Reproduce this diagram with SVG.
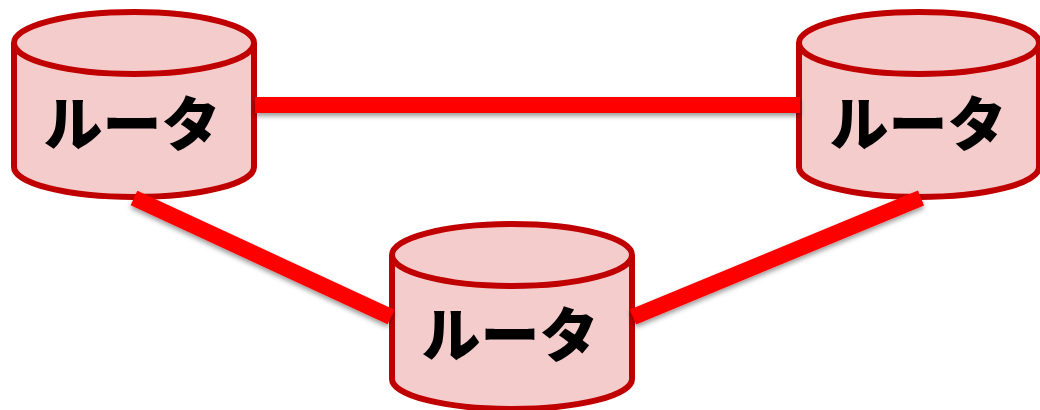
<svg xmlns="http://www.w3.org/2000/svg" width="1040" height="410" viewBox="0 0 1040 410">
<defs>
<filter id="sh" filterUnits="userSpaceOnUse" x="0" y="0" width="1040" height="410"><feDropShadow dx="0" dy="3" stdDeviation="2.5" flood-color="#000" flood-opacity="0.4"/></filter>
<g id="cyl"><path class="b" d="M-120 0 A120 31 0 0 1 120 0 V124 A120 30 0 0 1 -120 124 Z"/><path class="b" fill="none" d="M-120 0 A120 31 0 0 0 120 0"/></g>
</defs>
<style>
.b{fill:#f4cccc;stroke:#c00000;stroke-width:6}
.t{font-family:"Noto Sans CJK JP","Noto Sans",sans-serif;font-weight:900;font-size:59px;fill:#000;text-anchor:middle}
.c{stroke:#ff0000;stroke-width:16;fill:none}
</style>
<g id="router1"><use href="#cyl" x="134" y="43"/><text class="t" x="132" y="146">ルータ</text></g>
<g id="router2"><use href="#cyl" x="919" y="43"/><text class="t" x="918" y="146">ルータ</text></g>
<g id="router3"><use href="#cyl" x="512" y="255"/><text class="t" x="510" y="357">ルータ</text></g>
<g id="connectors">
<path class="c" filter="url(#sh)" d="M255 105 H800"/>
<path class="c" filter="url(#sh)" d="M134 198 L391 317"/>
<path class="c" filter="url(#sh)" d="M633 317 L921 198"/>
</g>
</svg>
